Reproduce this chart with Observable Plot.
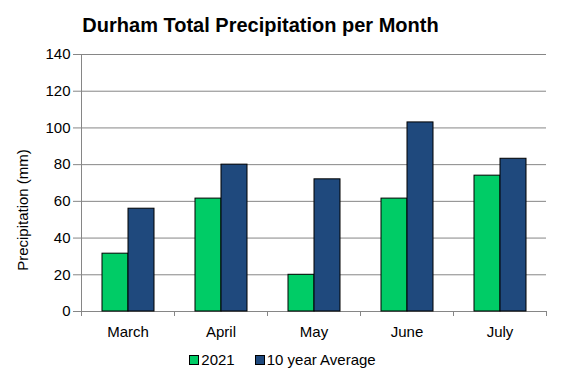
<!DOCTYPE html>
<html>
<head>
<meta charset="utf-8">
<script src="https://cdn.jsdelivr.net/npm/d3@7"></script>
<script src="https://cdn.jsdelivr.net/npm/@observablehq/plot@0.6"></script>
<style>
  html, body { margin: 0; padding: 0; background: #fff; }
  #wrap { position: relative; width: 561px; height: 382px; overflow: hidden; font-family: "Liberation Sans", Arial, sans-serif; }
  #title { position: absolute; left: 0; width: 521px; top: 14px; text-align: center; font-weight: bold; font-size: 20px; letter-spacing: 0px; color: #000; }
  #ylab { position: absolute; left: 22px; top: 210px; transform: translate(-50%, -50%) rotate(-90deg); font-size: 15px; white-space: nowrap; color: #000; }
  #legend { position: absolute; top: 351px; left: 0; width: 561px; display: flex; justify-content: center; gap: 0; font-size: 15px; color: #000; padding-left: 2px; }
  .item { display: flex; align-items: center; margin: 0 10px; }
  .sw { width: 8px; height: 8px; border: 1px solid #000; margin-right: 2px; }
  svg { position: absolute; left: 0; top: 0; }
</style>
</head>
<body>
<div id="wrap">
  <div id="title">Durham Total Precipitation per Month</div>
  <div id="ylab">Precipitation (mm)</div>
  <div id="legend"></div>
</div>
<script>
const months = ["March", "April", "May", "June", "July"];
const seriesNames = ["2021", "10 year Average"];
const values2021 = [31.5, 61.5, 20, 61.5, 74];
const valuesAvg = [56, 80, 72, 103, 83.2];
const seriesColors = ["#00CC66", "#1F497D"];
const yTicks = [0, 20, 40, 60, 80, 100, 120, 140];

const rows = [];
months.forEach((m, i) => {
  rows.push({month: m, series: seriesNames[0], value: values2021[i]});
  rows.push({month: m, series: seriesNames[1], value: valuesAvg[i]});
});

const gray = "#868686";
const chart = Plot.plot({
  width: 561,
  height: 382,
  marginLeft: 80,
  marginRight: 15,
  marginTop: 54,
  marginBottom: 71,
  style: {fontFamily: "'Liberation Sans', Arial, sans-serif", fontSize: "15px", color: "#000", background: "transparent", overflow: "visible"},
  fx: {domain: months, padding: 0, label: null, axis: null},
  x: {domain: seriesNames, paddingInner: 0, paddingOuter: 0.757, axis: null},
  y: {domain: [0, 140], axis: null},
  color: {domain: seriesNames, range: seriesColors},
  marks: [
    Plot.gridY(yTicks, {stroke: gray, strokeOpacity: 1, strokeWidth: 1}),
    Plot.ruleY([0], {stroke: gray, strokeWidth: 1}),
    Plot.barY(rows, {fx: "month", x: "series", y: "value", fill: "series", stroke: "#000", strokeWidth: 1}),
    Plot.axisY(yTicks, {tickSize: 8, tickPadding: 3, stroke: gray, label: null, fontSize: 15, fill: "#000"}),
    Plot.axisFx({anchor: "bottom", tickSize: 0, tickPadding: 15, label: null, fontSize: 15, fill: "#000"})
  ]
});

// category-boundary ticks and the vertical value axis line, from Plot's own scales
const fx = chart.scale("fx");
const ys = chart.scale("y");
const y0 = ys.apply(0), yTop = ys.apply(140);
const edges = months.map(m => fx.apply(m));
edges.push(fx.apply(months[months.length - 1]) + fx.bandwidth);
const g = d3.select(chart).append("g").attr("stroke", gray).attr("stroke-width", 1);
g.append("line").attr("x1", edges[0] + 0.5).attr("x2", edges[0] + 0.5).attr("y1", yTop).attr("y2", y0 + 5);
edges.forEach(e => {
  g.append("line").attr("x1", Math.round(e) + 0.5).attr("x2", Math.round(e) + 0.5).attr("y1", y0).attr("y2", y0 + 5);
});

document.getElementById("wrap").appendChild(chart);

const legend = document.getElementById("legend");
seriesNames.forEach((s, i) => {
  const it = document.createElement("div"); it.className = "item";
  const sw = document.createElement("div"); sw.className = "sw"; sw.style.background = seriesColors[i];
  const tx = document.createElement("span"); tx.textContent = s;
  it.appendChild(sw); it.appendChild(tx); legend.appendChild(it);
});
</script>
</body>
</html>
